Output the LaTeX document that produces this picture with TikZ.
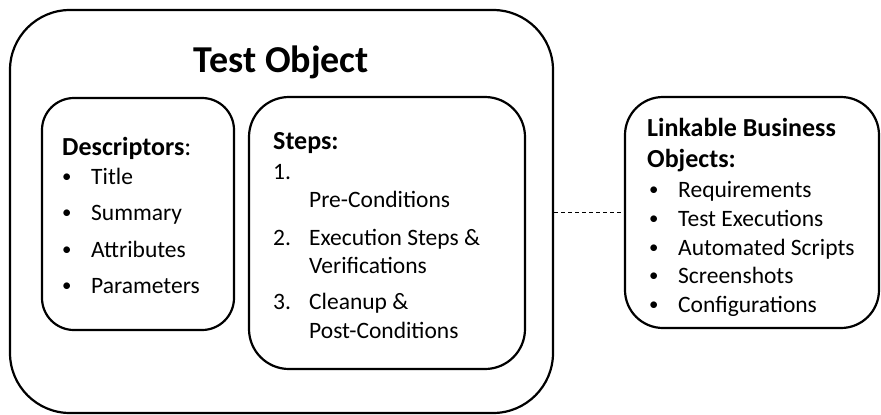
\documentclass[tikz,border=0pt]{standalone}
\usepackage{fontspec}
\setmainfont{Carlito}
\usetikzlibrary{arrows.meta}

\tikzset{
  box/.style={draw, line width=2.2pt, rounded corners=#1, inner sep=0pt},
  box/.default=35pt,
  head/.style={anchor=base west, inner sep=0pt, font=\fontsize{26}{31}\selectfont\bfseries},
  item/.style={anchor=base west, inner sep=0pt, font=\fontsize{23.5}{28}\selectfont},
  link/.style={line width=1.1pt, dash pattern=on 4pt off 3pt},
}
\newcommand{\blt}{\makebox[29pt][l]{\raisebox{1.1pt}{\scalebox{0.8}{\textbullet}}}}
\newcommand{\num}[1]{\makebox[36pt][l]{#1}}

\begin{document}
\begin{tikzpicture}[x=1pt, y=-1pt, >=Latex]
  \useasboundingbox (0,0) rectangle (881,415);

  % frames
  \node[box=60pt, minimum width=543pt, minimum height=403pt] (obj) at (281.5,211.5) {};
  \node[box=32pt, minimum width=192pt, minimum height=232pt] (desc) at (138,214) {};
  \node[box=40pt, minimum width=276pt, minimum height=272pt] (steps) at (387,233) {};
  \node[box=38pt, minimum width=254pt, minimum height=231pt] (links) at (752,212.5) {};

  \node[anchor=base, inner sep=0pt, font=\fontsize{38}{45}\selectfont\bfseries] (title) at (281.5,72) {Test Object};

  % descriptors
  \node[head] (deschead) at (62,155) {Descriptors\mdseries:};
  \node[item] (d1) at (62,184) {\blt Title};
  \node[item] (d2) at (62,220) {\blt Summary};
  \node[item] (d3) at (62,257) {\blt Attributes};
  \node[item] (d4) at (62,293) {\blt Parameters};

  % steps
  \node[head] (stepshead) at (273,149) {Steps:};
  \node[item] (s1) at (273,179) {1.};
  \node[item] (s1a) at (309,207) {Pre-Conditions};
  \node[item] (s2) at (273,245) {\num{2.}Execution Steps \&};
  \node[item] (s2a) at (309,273) {Verifications};
  \node[item] (s3) at (273,309) {\num{3.}Cleanup \&};
  \node[item] (s3a) at (309,338) {Post-Conditions};

  % linkable objects
  \node[head] (linkhead) at (647,136) {Linkable Business};
  \node[head] (linkhead2) at (647,167) {Objects:};
  \node[item] (l1) at (649,197) {\blt Requirements};
  \node[item] (l2) at (649,226) {\blt Test Executions};
  \node[item] (l3) at (649,255) {\blt Automated Scripts};
  \node[item] (l4) at (649,283) {\blt Screenshots};
  \node[item] (l5) at (649,312) {\blt Configurations};

  \draw[link] (obj.east |- links.west) -- (links.west);
\end{tikzpicture}
\end{document}
